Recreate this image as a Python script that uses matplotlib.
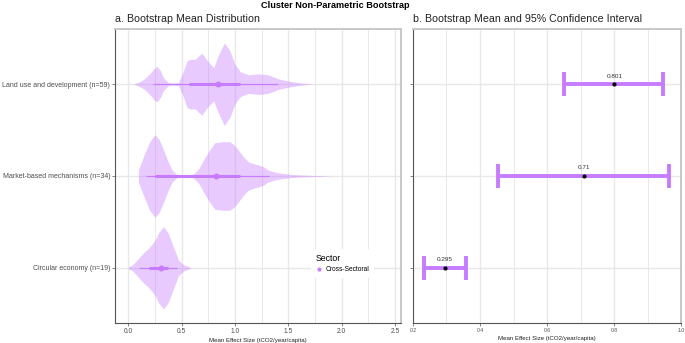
import numpy as np
import matplotlib
matplotlib.use("Agg")
import matplotlib.pyplot as plt
from matplotlib.lines import Line2D

plt.rcParams['font.family'] = ['Liberation Sans', 'DejaVu Sans']

# ---------------- data ----------------
categories = ["Circular economy (n=19)", "Market-based mechanisms (n=34)", "Land use and development (n=59)"]

# violin outline profiles (x value, relative half-width)
land_x = [0.05, 0.10, 0.15, 0.20, 0.25, 0.272, 0.30, 0.33, 0.375, 0.42, 0.47, 0.515, 0.547, 0.578, 0.625, 0.69,
          0.73, 0.80, 0.84, 0.90, 0.953, 1.00, 1.05, 1.125, 1.22, 1.31, 1.41, 1.50, 1.62, 1.73]
land_w = [0, 2, 5, 10, 16, 17, 13, 6, 1.5, 1, 1.5, 12, 22, 24, 24, 30,
          24, 16, 27, 40, 32, 19, 12, 9, 10, 9, 5, 3, 1, 0]

market_x = [0.094, 0.12, 0.156, 0.20, 0.25, 0.29, 0.33, 0.37, 0.41, 0.45, 0.50, 0.56, 0.61, 0.65, 0.67, 0.71,
            0.75, 0.81, 0.88, 0.95, 0.99, 1.03, 1.08, 1.125, 1.18, 1.22, 1.27, 1.31, 1.37, 1.44, 1.53, 1.62,
            1.75, 1.92]
market_w = [6, 13, 23, 34, 41, 36, 26, 15, 6, 2, 1, 1, 2, 6, 9, 17,
            24, 33, 34, 34, 31, 26, 19, 14, 12, 11, 9, 6, 4, 2.7, 1.5, 1,
            0.5, 0]

circ_x = [0.0, 0.04, 0.09, 0.14, 0.19, 0.23, 0.26, 0.28, 0.33, 0.375, 0.42, 0.47, 0.52, 0.55, 0.59]
circ_w = [1, 3, 9, 15, 20, 25, 30, 35, 42, 35, 22, 8, 3, 2, 0]

violin_x = [circ_x, market_x, land_x]
violin_w = [circ_w, market_w, land_w]

# inner summaries: thin range, thick range, mean point
range_lo = [0.10, 0.17, 0.23]
range_hi = [0.46, 1.32, 1.40]
box_lo = [0.19, 0.25, 0.57]
box_hi = [0.375, 1.05, 1.05]
boot_mean = [0.31, 0.82, 0.84]

# panel b: mean and 95% CI
ci_mean = [0.295, 0.71, 0.801]
ci_lo = [0.233, 0.455, 0.652]
ci_hi = [0.359, 0.964, 0.946]
ci_labels = ["0.295", "0.71", "0.801"]

sector_label = "Cross-Sectoral"

# ---------------- style ----------------
PURPLE = "#C77CFF"
GRID = "#E8E8E8"
W, H = 685, 343
fig = plt.figure(figsize=(W / 100, H / 100), dpi=100)

def fx(px):
    return px / W

def fy(py):
    return 1 - py / H

top, bottom = 29, 323
axA = fig.add_axes([fx(115), fy(bottom), fx(401 - 115), (bottom - top) / H])
axB = fig.add_axes([fx(413), fy(bottom), fx(681 - 413), (bottom - top) / H])

ypos = np.arange(1, len(categories) + 1)

for ax in (axA, axB):
    ax.set_ylim(0.4, 3.6)
    ax.set_facecolor("white")
    ax.set_axisbelow(True)
    ax.set_yticks(ypos)
    ax.grid(True, which="major", color=GRID, lw=1.0)
    ax.grid(True, which="minor", axis="x", color=GRID, lw=0.7)
    ax.tick_params(axis="both", which="major", length=2, width=0.5, color="#555555",
                   pad=1.5)
    ax.tick_params(axis="both", which="minor", length=0)
    for s in ("left", "bottom"):
        ax.spines[s].set_color("#555555")
        ax.spines[s].set_linewidth(0.8)
    for s in ("top", "right"):
        ax.spines[s].set_color("#C8C8C8")
        ax.spines[s].set_linewidth(1.4)

# ---- panel a ----
axA.set_xlim(-0.125, 2.556)
axA.set_xticks([0.0, 0.5, 1.0, 1.5, 2.0, 2.5])
axA.set_xticklabels(["0.0", "0.5", "1.0", "1.5", "2.0", "2.5"])
axA.set_xticks([0.25, 0.75, 1.25, 1.75, 2.25], minor=True)
axA.set_yticklabels(categories)
axA.tick_params(axis="y", labelsize=5.0, labelcolor="#4D4D4D")
axA.tick_params(axis="x", labelsize=4.8, labelcolor="#4D4D4D")

for i, y in enumerate(ypos):
    xs = np.array(violin_x[i], dtype=float)
    ws = np.array(violin_w[i], dtype=float)
    ws = ws / ws.max() * 0.45
    axA.fill_between(xs, y - ws, y + ws, color=PURPLE, alpha=0.4, lw=0, zorder=2)
    axA.plot([range_lo[i], range_hi[i]], [y, y], color=PURPLE, lw=0.8, zorder=3,
             solid_capstyle="butt")
    axA.plot([box_lo[i], box_hi[i]], [y, y], color=PURPLE, lw=2.2, zorder=4,
             solid_capstyle="butt")
    axA.plot([boot_mean[i]], [y], marker="o", color=PURPLE, ms=4.3, mew=0, zorder=5)

axA.set_xlabel("Mean Effect Size (tCO2/year/capita)", fontsize=4.4, color="#222222", labelpad=2)

handle = Line2D([], [], marker="o", color=PURPLE, ls="", ms=3, mew=0)
leg = axA.legend([handle], [sector_label], title="Sector", loc="upper left",
                 bbox_to_anchor=(0.675, 0.262), fontsize=4.8, title_fontsize=6.3,
                 frameon=True, fancybox=False, framealpha=1, edgecolor="white",
                 handlelength=0.8, handletextpad=0.6, borderpad=0.7,
                 alignment="left")
leg.get_frame().set_linewidth(0)

# ---- panel b ----
axB.set_xlim(0.2, 1.0)
axB.set_xticks([0.2, 0.4, 0.6, 0.8, 1.0])
axB.set_xticklabels(["0.2", "0.4", "0.6", "0.8", "1.0"])
axB.set_xticks([0.3, 0.5, 0.7, 0.9], minor=True)
axB.set_yticklabels([])
axB.tick_params(axis="x", labelsize=3.7, labelcolor="#4D4D4D")

for i, y in enumerate(ypos):
    axB.errorbar(ci_mean[i], y, xerr=[[ci_mean[i] - ci_lo[i]], [ci_hi[i] - ci_mean[i]]],
                 fmt="none", ecolor=PURPLE, elinewidth=2.8, capsize=8.3, capthick=2.8, zorder=3)
    axB.plot([ci_mean[i]], [y], marker="o", color="black", ms=3, mew=0, zorder=4)
    axB.annotate(ci_labels[i], (ci_mean[i], y), xytext=(0, 4), textcoords="offset points",
                 ha="center", va="bottom", fontsize=4.6, color="#333333", zorder=5)

axB.set_xlabel("Mean Effect Size (tCO2/year/capita)", fontsize=4.4, color="#222222", labelpad=2)

# ---- titles ----
fig.text(fx(335), fy(5.5), "Cluster Non-Parametric Bootstrap", ha="center", va="center",
         fontsize=6.6, fontweight="bold", color="black")
fig.text(fx(115), fy(19), "a. Bootstrap Mean Distribution", ha="left", va="center",
         fontsize=7.7, color="#222222")
fig.text(fx(413), fy(19), "b. Bootstrap Mean and 95% Confidence Interval", ha="left", va="center",
         fontsize=7.7, color="#222222")

fig.savefig("out.png", dpi=100)
